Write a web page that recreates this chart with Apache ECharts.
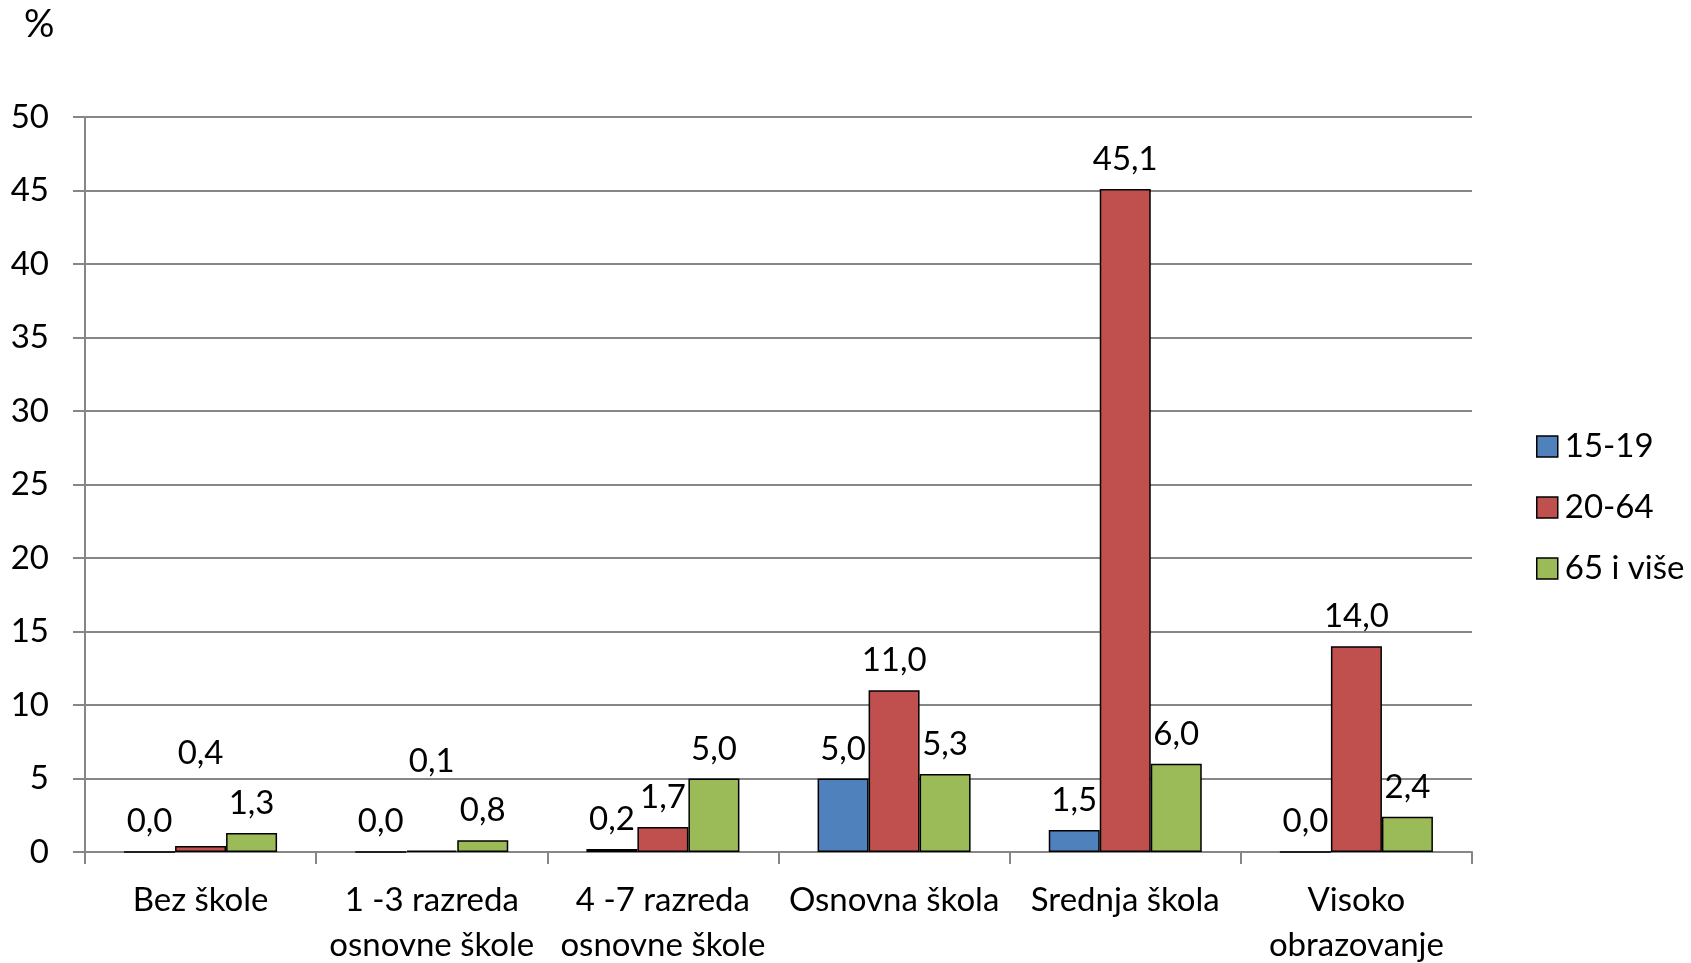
<!DOCTYPE html>
<html>
<head>
<meta charset="utf-8">
<script src="https://cdn.jsdelivr.net/npm/echarts@6/dist/echarts.min.js"></script>
<style>html,body{margin:0;padding:0;background:#fff;}#c{width:1691px;height:963px;}</style>
</head>
<body>
<div id="c"></div>
<script>
const categories = ['Bez škole', '1 -3 razreda\nosnovne škole', '4 -7 razreda\nosnovne škole', 'Osnovna škola', 'Srednja škola', 'Visoko\nobrazovanje'];
const seriesNames = ['15-19', '20-64', '65 i više'];
const s1519 = [0.0, 0.0, 0.2, 5.0, 1.5, 0.0];
const s2064 = [0.4, 0.1, 1.7, 11.0, 45.1, 14.0];
const s65 = [1.3, 0.8, 5.0, 5.3, 6.0, 2.4];
const yTicks = [0, 5, 10, 15, 20, 25, 30, 35, 40, 45, 50];

const FONT = 'Lato';
const FS = 33;
const colors = ['#4F81BD', '#C0504D', '#9BBB59'];
// vertical label offsets (px) for the lifted 20-64 labels in the reference
const liftSeries1 = {0: -63, 1: -60};

function mkData(vals, sIdx) {
  return vals.map((v, i) => {
    const item = { value: v };
    if (sIdx === 1 && liftSeries1[i] !== undefined) {
      item.label = { offset: [0, liftSeries1[i]] };
    }
    return item;
  });
}

const chart = echarts.init(document.getElementById('c'), null, { renderer: 'canvas' });
const seriesVals = [s1519, s2064, s65];
chart.setOption({
  animation: false,
  textStyle: { fontFamily: FONT },
  grid: { left: 85, right: 219, top: 117, bottom: 111, outerBoundsMode: 'none', containLabel: false },
  graphic: [{ type: 'text', left: 24, top: 6, style: { text: '%', font: '38px ' + FONT, fill: '#000' } }],
  legend: {
    orient: 'vertical', left: 1531, top: 425,
    itemWidth: 21, itemHeight: 21, itemGap: 28,
    icon: 'rect',
    itemStyle: { borderColor: '#000', borderWidth: 1.5 },
    textStyle: { fontSize: FS, color: '#000', fontFamily: FONT, padding: [0, 0, 0, 2] },
    data: seriesNames
  },
  xAxis: {
    type: 'category', data: categories,
    axisLine: { lineStyle: { color: '#868686', width: 2 } },
    axisTick: { show: true, length: 12, lineStyle: { color: '#868686', width: 2 } },
    axisLabel: { color: '#000', fontSize: FS, fontFamily: FONT, margin: 26, lineHeight: 45, interval: 0 }
  },
  yAxis: {
    type: 'value', min: 0, max: 50, interval: 5,
    axisLine: { show: true, lineStyle: { color: '#868686', width: 2 } },
    axisTick: { show: true, length: 12, lineStyle: { color: '#868686', width: 2 } },
    splitLine: { lineStyle: { color: '#868686', width: 2 } },
    axisLabel: { color: '#000', fontSize: FS, fontFamily: FONT, margin: 36,
      formatter: v => yTicks.includes(v) ? String(v) : '' }
  },
  series: seriesVals.map((vals, k) => ({
    name: seriesNames[k], type: 'bar', data: mkData(vals, k),
    barWidth: 51, barGap: '0%',
    itemStyle: { color: colors[k], borderColor: '#000', borderWidth: 1.5 },
    label: { show: true, position: 'top', distance: 13, color: '#000', fontSize: FS, fontFamily: FONT,
      formatter: p => p.value.toFixed(1).replace('.', ',') }
  }))
});
</script>
</body>
</html>
